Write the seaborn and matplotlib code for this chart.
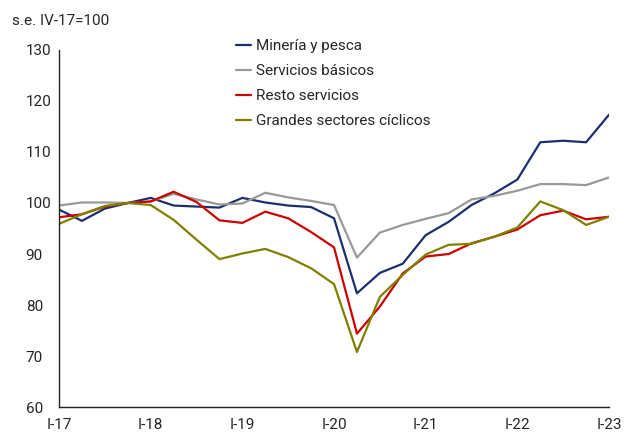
import numpy as np
import pandas as pd
import matplotlib
matplotlib.use("Agg")
import matplotlib.pyplot as plt
import seaborn as sns

# Trimestres I-17 .. I-23
trimestres = list(range(25))
etiquetas_x = ["I-17", "I-18", "I-19", "I-20", "I-21", "I-22", "I-23"]

mineria = [98.7, 96.5, 98.9, 100.0, 101.0, 99.5, 99.3, 99.1, 101.0, 100.1, 99.5, 99.2, 97.0,
           82.3, 86.3, 88.1, 93.7, 96.3, 99.6, 101.9, 104.6, 111.9, 112.2, 111.9, 117.3]
servicios_basicos = [99.5, 100.1, 100.1, 100.0, 100.3, 101.8, 100.7, 99.7, 99.9, 102.0, 101.1, 100.4, 99.6,
                     89.3, 94.2, 95.7, 96.9, 98.0, 100.7, 101.4, 102.4, 103.7, 103.7, 103.5, 105.0]
resto_servicios = [97.2, 97.8, 99.3, 100.0, 100.3, 102.2, 100.2, 96.6, 96.1, 98.3, 97.0, 94.3, 91.3,
                   74.4, 79.7, 86.2, 89.5, 90.0, 92.1, 93.4, 94.8, 97.6, 98.5, 96.8, 97.3]
grandes_ciclicos = [95.9, 97.8, 99.4, 100.0, 99.6, 96.7, 92.8, 89.0, 90.1, 91.0, 89.4, 87.2, 84.1,
                    70.8, 81.6, 85.9, 89.9, 91.8, 92.0, 93.4, 95.2, 100.3, 98.6, 95.7, 97.3]

series = {
    "Minería y pesca": mineria,
    "Servicios básicos": servicios_basicos,
    "Resto servicios": resto_servicios,
    "Grandes sectores cíclicos": grandes_ciclicos,
}
colores = ["#1b2f6e", "#999999", "#cc0000", "#808000"]

df = pd.concat([pd.DataFrame({"t": trimestres, "valor": v, "serie": k}) for k, v in series.items()])

sns.set_style("white")
plt.rcParams["font.family"] = ["Roboto", "DejaVu Sans"]

fig = plt.figure(figsize=(6.24, 4.34), dpi=100)
ax = fig.add_axes([0.0946, 0.062, 0.8814, 0.823])

sns.lineplot(data=df, x="t", y="valor", hue="serie", palette=colores, linewidth=1.6, ax=ax)

ax.set_xlim(0, 24)
ax.set_ylim(60, 130)
ax.set_xticks(range(0, 25, 4))
ax.set_xticklabels(etiquetas_x)
ax.set_yticks(range(60, 131, 10))
ax.set_xlabel("")
ax.set_ylabel("")

for lado in ["top", "right"]:
    ax.spines[lado].set_visible(False)
for lado in ["left", "bottom"]:
    ax.spines[lado].set_color("#222222")
    ax.spines[lado].set_linewidth(1.0)

ax.tick_params(axis="x", direction="in", length=5, width=1, color="#222222", labelsize=11, pad=8)
ax.tick_params(axis="y", direction="in", length=5, width=1, color="#222222", labelsize=11, pad=24)
for lbl in ax.get_yticklabels():
    lbl.set_horizontalalignment("left")

fig.text(0.019, 0.952, "s.e. IV-17=100", fontsize=11, va="center", ha="left")

leg = ax.legend(loc="upper left", bbox_to_anchor=(0.297, 1.068), frameon=False, fontsize=11,
                handlelength=1.0, handletextpad=0.3, labelspacing=0.72)

fig.savefig("out.png", dpi=100)
